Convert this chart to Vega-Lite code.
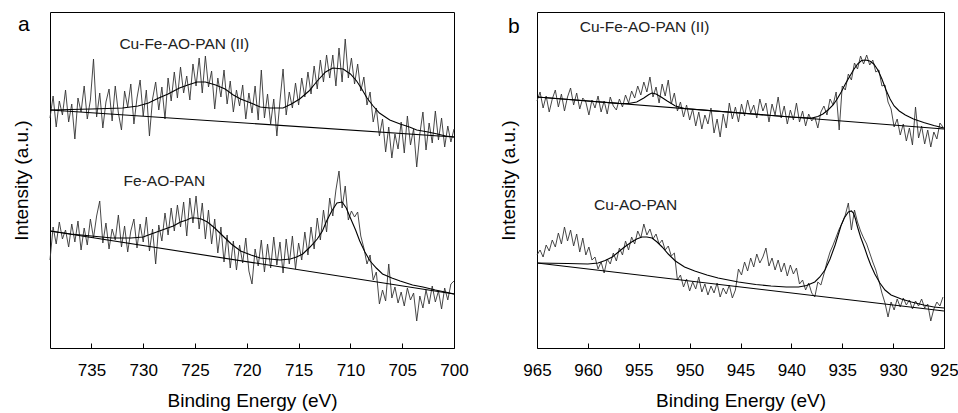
{
"$schema":"https://vega.github.io/schema/vega-lite/v6.json",
"padding":{"left":11,"top":11,"right":5,"bottom":5},
"bounds":"flush",
"spacing":83,
"config":{"font":"Liberation Sans","view":{"stroke":"#000","strokeWidth":1},
"axis":{"grid":false,"labelColor":"#000","titleColor":"#000","titleFontWeight":"normal","labelFont":"Liberation Sans","titleFont":"Liberation Sans"},
"axisX":{"tickSize":-5,"tickColor":"#000","tickWidth":1,"labelPadding":19,"labelFontSize":17,"titleFontSize":19,"titlePadding":13,"domain":false,"labelFlush":false},
"axisY":{"labels":false,"ticks":false,"domain":false,"titleFontSize":19,"titlePadding":19}},
"datasets":{
"aRaw":[
{"E":739.0,"I":230,"s":"t"},{"E":738.7,"I":252,"s":"t"},{"E":738.4,"I":221,"s":"t"},{"E":738.1,"I":247,"s":"t"},{"E":737.8,"I":233,"s":"t"},{"E":737.5,"I":258,"s":"t"},{"E":737.2,"I":226,"s":"t"},{"E":736.9,"I":244,"s":"t"},{"E":736.6,"I":209,"s":"t"},{"E":736.3,"I":250,"s":"t"},{"E":736.0,"I":236,"s":"t"},{"E":735.7,"I":262,"s":"t"},{"E":735.4,"I":229,"s":"t"},{"E":735.1,"I":248,"s":"t"},{"E":734.8,"I":289,"s":"t"},{"E":734.5,"I":231,"s":"t"},{"E":734.2,"I":255,"s":"t"},{"E":733.9,"I":220,"s":"t"},{"E":733.6,"I":246,"s":"t"},{"E":733.3,"I":259,"s":"t"},{"E":733.0,"I":227,"s":"t"},{"E":732.7,"I":262,"s":"t"},{"E":732.4,"I":235,"s":"t"},{"E":732.1,"I":218,"s":"t"},{"E":731.8,"I":257,"s":"t"},{"E":731.5,"I":241,"s":"t"},{"E":731.2,"I":264,"s":"t"},{"E":730.9,"I":224,"s":"t"},{"E":730.6,"I":250,"s":"t"},{"E":730.3,"I":268,"s":"t"},{"E":730.0,"I":232,"s":"t"},{"E":729.7,"I":258,"s":"t"},{"E":729.4,"I":212,"s":"t"},{"E":729.1,"I":249,"s":"t"},{"E":728.8,"I":266,"s":"t"},{"E":728.5,"I":238,"s":"t"},{"E":728.2,"I":261,"s":"t"},{"E":727.9,"I":229,"s":"t"},{"E":727.6,"I":270,"s":"t"},{"E":727.3,"I":247,"s":"t"},{"E":727.0,"I":276,"s":"t"},{"E":726.7,"I":250,"s":"t"},{"E":726.4,"I":281,"s":"t"},{"E":726.1,"I":255,"s":"t"},{"E":725.8,"I":272,"s":"t"},{"E":725.5,"I":248,"s":"t"},{"E":725.2,"I":284,"s":"t"},{"E":724.9,"I":262,"s":"t"},{"E":724.6,"I":290,"s":"t"},{"E":724.3,"I":255,"s":"t"},{"E":724.0,"I":292,"s":"t"},{"E":723.7,"I":261,"s":"t"},{"E":723.4,"I":277,"s":"t"},{"E":723.1,"I":239,"s":"t"},{"E":722.8,"I":270,"s":"t"},{"E":722.5,"I":251,"s":"t"},{"E":722.2,"I":278,"s":"t"},{"E":721.9,"I":244,"s":"t"},{"E":721.6,"I":267,"s":"t"},{"E":721.3,"I":236,"s":"t"},{"E":721.0,"I":258,"s":"t"},{"E":720.7,"I":242,"s":"t"},{"E":720.4,"I":263,"s":"t"},{"E":720.1,"I":229,"s":"t"},{"E":719.8,"I":255,"s":"t"},{"E":719.5,"I":235,"s":"t"},{"E":719.2,"I":262,"s":"t"},{"E":718.9,"I":228,"s":"t"},{"E":718.6,"I":278,"s":"t"},{"E":718.3,"I":230,"s":"t"},{"E":718.0,"I":254,"s":"t"},{"E":717.7,"I":224,"s":"t"},{"E":717.4,"I":249,"s":"t"},{"E":717.1,"I":212,"s":"t"},{"E":716.8,"I":247,"s":"t"},{"E":716.5,"I":279,"s":"t"},{"E":716.2,"I":233,"s":"t"},{"E":715.9,"I":256,"s":"t"},{"E":715.6,"I":240,"s":"t"},{"E":715.3,"I":265,"s":"t"},{"E":715.0,"I":243,"s":"t"},{"E":714.7,"I":270,"s":"t"},{"E":714.4,"I":251,"s":"t"},{"E":714.1,"I":276,"s":"t"},{"E":713.8,"I":254,"s":"t"},{"E":713.5,"I":282,"s":"t"},{"E":713.2,"I":259,"s":"t"},{"E":712.9,"I":288,"s":"t"},{"E":712.6,"I":266,"s":"t"},{"E":712.3,"I":293,"s":"t"},{"E":712.0,"I":270,"s":"t"},{"E":711.7,"I":293,"s":"t"},{"E":711.4,"I":262,"s":"t"},{"E":711.1,"I":300,"s":"t"},{"E":710.8,"I":266,"s":"t"},{"E":710.5,"I":309,"s":"t"},{"E":710.2,"I":270,"s":"t"},{"E":709.9,"I":290,"s":"t"},{"E":709.6,"I":264,"s":"t"},{"E":709.3,"I":284,"s":"t"},{"E":709.0,"I":257,"s":"t"},{"E":708.7,"I":271,"s":"t"},{"E":708.4,"I":243,"s":"t"},{"E":708.1,"I":256,"s":"t"},{"E":707.8,"I":226,"s":"t"},{"E":707.5,"I":240,"s":"t"},{"E":707.2,"I":212,"s":"t"},{"E":706.9,"I":229,"s":"t"},{"E":706.6,"I":196,"s":"t"},{"E":706.3,"I":221,"s":"t"},{"E":706.0,"I":190,"s":"t"},{"E":705.7,"I":214,"s":"t"},{"E":705.4,"I":199,"s":"t"},{"E":705.1,"I":226,"s":"t"},{"E":704.8,"I":195,"s":"t"},{"E":704.5,"I":232,"s":"t"},{"E":704.2,"I":203,"s":"t"},{"E":703.9,"I":219,"s":"t"},{"E":703.6,"I":181,"s":"t"},{"E":703.3,"I":214,"s":"t"},{"E":703.0,"I":236,"s":"t"},{"E":702.7,"I":198,"s":"t"},{"E":702.4,"I":225,"s":"t"},{"E":702.1,"I":205,"s":"t"},{"E":701.8,"I":237,"s":"t"},{"E":701.5,"I":208,"s":"t"},{"E":701.2,"I":230,"s":"t"},{"E":700.9,"I":201,"s":"t"},{"E":700.6,"I":222,"s":"t"},{"E":700.3,"I":206,"s":"t"},{"E":700.0,"I":219,"s":"t"},
{"E":739.0,"I":88,"s":"b"},{"E":738.7,"I":121,"s":"b"},{"E":738.4,"I":104,"s":"b"},{"E":738.1,"I":126,"s":"b"},{"E":737.8,"I":109,"s":"b"},{"E":737.5,"I":118,"s":"b"},{"E":737.2,"I":101,"s":"b"},{"E":736.9,"I":124,"s":"b"},{"E":736.6,"I":106,"s":"b"},{"E":736.3,"I":127,"s":"b"},{"E":736.0,"I":98,"s":"b"},{"E":735.7,"I":120,"s":"b"},{"E":735.4,"I":103,"s":"b"},{"E":735.1,"I":129,"s":"b"},{"E":734.8,"I":110,"s":"b"},{"E":734.5,"I":132,"s":"b"},{"E":734.2,"I":147,"s":"b"},{"E":733.9,"I":105,"s":"b"},{"E":733.6,"I":125,"s":"b"},{"E":733.3,"I":99,"s":"b"},{"E":733.0,"I":119,"s":"b"},{"E":732.7,"I":108,"s":"b"},{"E":732.4,"I":133,"s":"b"},{"E":732.1,"I":101,"s":"b"},{"E":731.8,"I":122,"s":"b"},{"E":731.5,"I":96,"s":"b"},{"E":731.2,"I":117,"s":"b"},{"E":730.9,"I":129,"s":"b"},{"E":730.6,"I":100,"s":"b"},{"E":730.3,"I":124,"s":"b"},{"E":730.0,"I":106,"s":"b"},{"E":729.7,"I":131,"s":"b"},{"E":729.4,"I":97,"s":"b"},{"E":729.1,"I":119,"s":"b"},{"E":728.8,"I":84,"s":"b"},{"E":728.5,"I":123,"s":"b"},{"E":728.2,"I":107,"s":"b"},{"E":727.9,"I":135,"s":"b"},{"E":727.6,"I":113,"s":"b"},{"E":727.3,"I":140,"s":"b"},{"E":727.0,"I":117,"s":"b"},{"E":726.7,"I":143,"s":"b"},{"E":726.4,"I":121,"s":"b"},{"E":726.1,"I":146,"s":"b"},{"E":725.8,"I":112,"s":"b"},{"E":725.5,"I":150,"s":"b"},{"E":725.2,"I":125,"s":"b"},{"E":724.9,"I":152,"s":"b"},{"E":724.6,"I":119,"s":"b"},{"E":724.3,"I":145,"s":"b"},{"E":724.0,"I":109,"s":"b"},{"E":723.7,"I":138,"s":"b"},{"E":723.4,"I":104,"s":"b"},{"E":723.1,"I":129,"s":"b"},{"E":722.8,"I":95,"s":"b"},{"E":722.5,"I":121,"s":"b"},{"E":722.2,"I":86,"s":"b"},{"E":721.9,"I":113,"s":"b"},{"E":721.6,"I":80,"s":"b"},{"E":721.3,"I":107,"s":"b"},{"E":721.0,"I":78,"s":"b"},{"E":720.7,"I":103,"s":"b"},{"E":720.4,"I":85,"s":"b"},{"E":720.1,"I":110,"s":"b"},{"E":719.8,"I":77,"s":"b"},{"E":719.5,"I":64,"s":"b"},{"E":719.2,"I":99,"s":"b"},{"E":718.9,"I":82,"s":"b"},{"E":718.6,"I":108,"s":"b"},{"E":718.3,"I":76,"s":"b"},{"E":718.0,"I":104,"s":"b"},{"E":717.7,"I":80,"s":"b"},{"E":717.4,"I":111,"s":"b"},{"E":717.1,"I":83,"s":"b"},{"E":716.8,"I":106,"s":"b"},{"E":716.5,"I":75,"s":"b"},{"E":716.2,"I":109,"s":"b"},{"E":715.9,"I":84,"s":"b"},{"E":715.6,"I":112,"s":"b"},{"E":715.3,"I":79,"s":"b"},{"E":715.0,"I":105,"s":"b"},{"E":714.7,"I":88,"s":"b"},{"E":714.4,"I":116,"s":"b"},{"E":714.1,"I":93,"s":"b"},{"E":713.8,"I":121,"s":"b"},{"E":713.5,"I":99,"s":"b"},{"E":713.2,"I":130,"s":"b"},{"E":712.9,"I":108,"s":"b"},{"E":712.6,"I":138,"s":"b"},{"E":712.3,"I":116,"s":"b"},{"E":712.0,"I":150,"s":"b"},{"E":711.7,"I":132,"s":"b"},{"E":711.4,"I":158,"s":"b"},{"E":711.1,"I":177,"s":"b"},{"E":710.8,"I":140,"s":"b"},{"E":710.5,"I":162,"s":"b"},{"E":710.2,"I":128,"s":"b"},{"E":709.9,"I":137,"s":"b"},{"E":709.6,"I":131,"s":"b"},{"E":709.3,"I":136,"s":"b"},{"E":709.0,"I":112,"s":"b"},{"E":708.7,"I":100,"s":"b"},{"E":708.4,"I":84,"s":"b"},{"E":708.1,"I":93,"s":"b"},{"E":707.8,"I":68,"s":"b"},{"E":707.5,"I":76,"s":"b"},{"E":707.2,"I":44,"s":"b"},{"E":706.9,"I":58,"s":"b"},{"E":706.6,"I":47,"s":"b"},{"E":706.3,"I":84,"s":"b"},{"E":706.0,"I":50,"s":"b"},{"E":705.7,"I":61,"s":"b"},{"E":705.4,"I":45,"s":"b"},{"E":705.1,"I":56,"s":"b"},{"E":704.8,"I":42,"s":"b"},{"E":704.5,"I":60,"s":"b"},{"E":704.2,"I":48,"s":"b"},{"E":703.9,"I":55,"s":"b"},{"E":703.6,"I":27,"s":"b"},{"E":703.3,"I":52,"s":"b"},{"E":703.0,"I":40,"s":"b"},{"E":702.7,"I":58,"s":"b"},{"E":702.4,"I":44,"s":"b"},{"E":702.1,"I":62,"s":"b"},{"E":701.8,"I":46,"s":"b"},{"E":701.5,"I":57,"s":"b"},{"E":701.2,"I":39,"s":"b"},{"E":700.9,"I":60,"s":"b"},{"E":700.6,"I":48,"s":"b"},{"E":700.3,"I":64,"s":"b"},{"E":700.0,"I":67,"s":"b"}
],
"aFit":[
{"E":739,"I":238,"s":"t"},{"E":735,"I":239,"s":"t"},{"E":732,"I":240,"s":"t"},{"E":730.5,"I":242,"s":"t"},{"E":729.5,"I":245,"s":"t"},{"E":728.5,"I":250,"s":"t"},{"E":727.6,"I":254,"s":"t"},{"E":726.5,"I":260,"s":"t"},{"E":725.7,"I":263,"s":"t"},{"E":724.8,"I":266,"s":"t"},{"E":724,"I":266,"s":"t"},{"E":723,"I":263,"s":"t"},{"E":722.1,"I":259,"s":"t"},{"E":721.3,"I":253,"s":"t"},{"E":720.6,"I":249,"s":"t"},{"E":719.6,"I":245,"s":"t"},{"E":718.7,"I":241,"s":"t"},{"E":717.8,"I":240,"s":"t"},{"E":716.5,"I":240,"s":"t"},{"E":715.7,"I":244,"s":"t"},{"E":714.9,"I":249,"s":"t"},{"E":714,"I":257,"s":"t"},{"E":713.2,"I":267,"s":"t"},{"E":712.4,"I":276,"s":"t"},{"E":711.7,"I":280,"s":"t"},{"E":710.7,"I":279,"s":"t"},{"E":710,"I":274,"s":"t"},{"E":709.4,"I":267,"s":"t"},{"E":708.9,"I":259,"s":"t"},{"E":708.4,"I":250,"s":"t"},{"E":707.8,"I":242,"s":"t"},{"E":707.2,"I":235,"s":"t"},{"E":706.2,"I":228,"s":"t"},{"E":705.2,"I":224,"s":"t"},{"E":704.3,"I":221,"s":"t"},{"E":703.6,"I":218,"s":"t"},{"E":702.5,"I":216,"s":"t"},{"E":701.6,"I":214,"s":"t"},{"E":700.8,"I":212,"s":"t"},{"E":700,"I":211,"s":"t"},
{"E":739,"I":117,"s":"b"},{"E":737,"I":114,"s":"b"},{"E":735,"I":112,"s":"b"},{"E":733,"I":110,"s":"b"},{"E":731.2,"I":110,"s":"b"},{"E":730,"I":111,"s":"b"},{"E":729.5,"I":113,"s":"b"},{"E":728.7,"I":116,"s":"b"},{"E":727.9,"I":119,"s":"b"},{"E":727.1,"I":122,"s":"b"},{"E":726.4,"I":126,"s":"b"},{"E":725.8,"I":128,"s":"b"},{"E":725.4,"I":130,"s":"b"},{"E":724.9,"I":130,"s":"b"},{"E":724.4,"I":129,"s":"b"},{"E":723.8,"I":126,"s":"b"},{"E":723.1,"I":120,"s":"b"},{"E":722.3,"I":112,"s":"b"},{"E":721.5,"I":104,"s":"b"},{"E":720.6,"I":97,"s":"b"},{"E":719.6,"I":93,"s":"b"},{"E":718.7,"I":90,"s":"b"},{"E":717.8,"I":89,"s":"b"},{"E":716.8,"I":88,"s":"b"},{"E":715.8,"I":89,"s":"b"},{"E":715.2,"I":91,"s":"b"},{"E":714.6,"I":94,"s":"b"},{"E":713.9,"I":101,"s":"b"},{"E":713.2,"I":109,"s":"b"},{"E":712.7,"I":117,"s":"b"},{"E":712.3,"I":127,"s":"b"},{"E":711.8,"I":137,"s":"b"},{"E":711.3,"I":145,"s":"b"},{"E":710.8,"I":146,"s":"b"},{"E":710.4,"I":140,"s":"b"},{"E":710,"I":130,"s":"b"},{"E":709.5,"I":118,"s":"b"},{"E":709.1,"I":107,"s":"b"},{"E":708.6,"I":96,"s":"b"},{"E":708.1,"I":87,"s":"b"},{"E":707.5,"I":80,"s":"b"},{"E":706.9,"I":74,"s":"b"},{"E":706,"I":70,"s":"b"},{"E":705.2,"I":67,"s":"b"},{"E":704,"I":63,"s":"b"},{"E":703,"I":61,"s":"b"},{"E":701.8,"I":58,"s":"b"},{"E":700.4,"I":55,"s":"b"},{"E":700,"I":54,"s":"b"}
],
"aBase":[{"E":739,"I":238,"s":"t"},{"E":700,"I":211,"s":"t"},{"E":739,"I":117,"s":"b"},{"E":700,"I":54,"s":"b"}],
"bRaw":[
{"E":965.0,"I":247,"s":"t"},{"E":964.7,"I":256,"s":"t"},{"E":964.4,"I":240,"s":"t"},{"E":964.1,"I":252,"s":"t"},{"E":963.8,"I":236,"s":"t"},{"E":963.5,"I":249,"s":"t"},{"E":963.2,"I":258,"s":"t"},{"E":962.9,"I":241,"s":"t"},{"E":962.6,"I":254,"s":"t"},{"E":962.3,"I":237,"s":"t"},{"E":962.0,"I":251,"s":"t"},{"E":961.7,"I":260,"s":"t"},{"E":961.4,"I":243,"s":"t"},{"E":961.1,"I":255,"s":"t"},{"E":960.8,"I":239,"s":"t"},{"E":960.5,"I":250,"s":"t"},{"E":960.2,"I":246,"s":"t"},{"E":959.9,"I":233,"s":"t"},{"E":959.6,"I":248,"s":"t"},{"E":959.3,"I":240,"s":"t"},{"E":959.0,"I":252,"s":"t"},{"E":958.7,"I":236,"s":"t"},{"E":958.4,"I":247,"s":"t"},{"E":958.1,"I":234,"s":"t"},{"E":957.8,"I":251,"s":"t"},{"E":957.5,"I":242,"s":"t"},{"E":957.2,"I":238,"s":"t"},{"E":956.9,"I":249,"s":"t"},{"E":956.6,"I":241,"s":"t"},{"E":956.3,"I":253,"s":"t"},{"E":956.0,"I":245,"s":"t"},{"E":955.7,"I":257,"s":"t"},{"E":955.4,"I":250,"s":"t"},{"E":955.1,"I":262,"s":"t"},{"E":954.8,"I":253,"s":"t"},{"E":954.5,"I":266,"s":"t"},{"E":954.2,"I":256,"s":"t"},{"E":953.9,"I":271,"s":"t"},{"E":953.6,"I":251,"s":"t"},{"E":953.3,"I":261,"s":"t"},{"E":953.0,"I":245,"s":"t"},{"E":952.7,"I":264,"s":"t"},{"E":952.4,"I":252,"s":"t"},{"E":952.1,"I":268,"s":"t"},{"E":951.8,"I":244,"s":"t"},{"E":951.5,"I":255,"s":"t"},{"E":951.2,"I":237,"s":"t"},{"E":950.9,"I":246,"s":"t"},{"E":950.6,"I":231,"s":"t"},{"E":950.3,"I":243,"s":"t"},{"E":950.0,"I":228,"s":"t"},{"E":949.7,"I":239,"s":"t"},{"E":949.4,"I":222,"s":"t"},{"E":949.1,"I":236,"s":"t"},{"E":948.8,"I":219,"s":"t"},{"E":948.5,"I":233,"s":"t"},{"E":948.2,"I":224,"s":"t"},{"E":947.9,"I":240,"s":"t"},{"E":947.6,"I":215,"s":"t"},{"E":947.3,"I":229,"s":"t"},{"E":947.0,"I":211,"s":"t"},{"E":946.7,"I":234,"s":"t"},{"E":946.4,"I":220,"s":"t"},{"E":946.1,"I":245,"s":"t"},{"E":945.8,"I":229,"s":"t"},{"E":945.5,"I":241,"s":"t"},{"E":945.2,"I":226,"s":"t"},{"E":944.9,"I":244,"s":"t"},{"E":944.6,"I":232,"s":"t"},{"E":944.3,"I":248,"s":"t"},{"E":944.0,"I":235,"s":"t"},{"E":943.7,"I":243,"s":"t"},{"E":943.4,"I":230,"s":"t"},{"E":943.1,"I":249,"s":"t"},{"E":942.8,"I":237,"s":"t"},{"E":942.5,"I":245,"s":"t"},{"E":942.2,"I":226,"s":"t"},{"E":941.9,"I":244,"s":"t"},{"E":941.6,"I":233,"s":"t"},{"E":941.3,"I":251,"s":"t"},{"E":941.0,"I":230,"s":"t"},{"E":940.7,"I":242,"s":"t"},{"E":940.4,"I":224,"s":"t"},{"E":940.1,"I":238,"s":"t"},{"E":939.8,"I":228,"s":"t"},{"E":939.5,"I":245,"s":"t"},{"E":939.2,"I":226,"s":"t"},{"E":938.9,"I":237,"s":"t"},{"E":938.6,"I":222,"s":"t"},{"E":938.3,"I":234,"s":"t"},{"E":938.0,"I":227,"s":"t"},{"E":937.7,"I":231,"s":"t"},{"E":937.4,"I":220,"s":"t"},{"E":937.1,"I":236,"s":"t"},{"E":936.8,"I":242,"s":"t"},{"E":936.5,"I":233,"s":"t"},{"E":936.2,"I":249,"s":"t"},{"E":935.9,"I":243,"s":"t"},{"E":935.6,"I":256,"s":"t"},{"E":935.3,"I":218,"s":"t"},{"E":935.0,"I":262,"s":"t"},{"E":934.7,"I":258,"s":"t"},{"E":934.4,"I":274,"s":"t"},{"E":934.1,"I":268,"s":"t"},{"E":933.8,"I":285,"s":"t"},{"E":933.5,"I":279,"s":"t"},{"E":933.2,"I":292,"s":"t"},{"E":932.9,"I":284,"s":"t"},{"E":932.6,"I":293,"s":"t"},{"E":932.3,"I":283,"s":"t"},{"E":932.0,"I":288,"s":"t"},{"E":931.7,"I":276,"s":"t"},{"E":931.4,"I":278,"s":"t"},{"E":931.1,"I":262,"s":"t"},{"E":930.8,"I":263,"s":"t"},{"E":930.5,"I":246,"s":"t"},{"E":930.2,"I":239,"s":"t"},{"E":929.9,"I":221,"s":"t"},{"E":929.6,"I":229,"s":"t"},{"E":929.3,"I":213,"s":"t"},{"E":929.0,"I":224,"s":"t"},{"E":928.7,"I":207,"s":"t"},{"E":928.4,"I":220,"s":"t"},{"E":928.1,"I":203,"s":"t"},{"E":927.8,"I":241,"s":"t"},{"E":927.5,"I":210,"s":"t"},{"E":927.2,"I":222,"s":"t"},{"E":926.9,"I":204,"s":"t"},{"E":926.6,"I":218,"s":"t"},{"E":926.3,"I":201,"s":"t"},{"E":926.0,"I":216,"s":"t"},{"E":925.7,"I":209,"s":"t"},{"E":925.4,"I":225,"s":"t"},{"E":925.1,"I":221,"s":"t"},
{"E":965.0,"I":93,"s":"b"},{"E":964.7,"I":98,"s":"b"},{"E":964.4,"I":91,"s":"b"},{"E":964.1,"I":103,"s":"b"},{"E":963.8,"I":97,"s":"b"},{"E":963.5,"I":108,"s":"b"},{"E":963.2,"I":101,"s":"b"},{"E":962.9,"I":115,"s":"b"},{"E":962.6,"I":104,"s":"b"},{"E":962.3,"I":121,"s":"b"},{"E":962.0,"I":107,"s":"b"},{"E":961.7,"I":118,"s":"b"},{"E":961.4,"I":102,"s":"b"},{"E":961.1,"I":114,"s":"b"},{"E":960.8,"I":96,"s":"b"},{"E":960.5,"I":110,"s":"b"},{"E":960.2,"I":93,"s":"b"},{"E":959.9,"I":101,"s":"b"},{"E":959.6,"I":88,"s":"b"},{"E":959.3,"I":91,"s":"b"},{"E":959.0,"I":79,"s":"b"},{"E":958.7,"I":86,"s":"b"},{"E":958.4,"I":75,"s":"b"},{"E":958.1,"I":89,"s":"b"},{"E":957.8,"I":84,"s":"b"},{"E":957.5,"I":95,"s":"b"},{"E":957.2,"I":87,"s":"b"},{"E":956.9,"I":100,"s":"b"},{"E":956.6,"I":93,"s":"b"},{"E":956.3,"I":107,"s":"b"},{"E":956.0,"I":98,"s":"b"},{"E":955.7,"I":111,"s":"b"},{"E":955.4,"I":104,"s":"b"},{"E":955.1,"I":117,"s":"b"},{"E":954.8,"I":110,"s":"b"},{"E":954.5,"I":124,"s":"b"},{"E":954.2,"I":113,"s":"b"},{"E":953.9,"I":119,"s":"b"},{"E":953.6,"I":109,"s":"b"},{"E":953.3,"I":114,"s":"b"},{"E":953.0,"I":104,"s":"b"},{"E":952.7,"I":108,"s":"b"},{"E":952.4,"I":98,"s":"b"},{"E":952.1,"I":102,"s":"b"},{"E":951.8,"I":92,"s":"b"},{"E":951.5,"I":95,"s":"b"},{"E":951.2,"I":68,"s":"b"},{"E":950.9,"I":73,"s":"b"},{"E":950.6,"I":61,"s":"b"},{"E":950.3,"I":69,"s":"b"},{"E":950.0,"I":57,"s":"b"},{"E":949.7,"I":66,"s":"b"},{"E":949.4,"I":59,"s":"b"},{"E":949.1,"I":71,"s":"b"},{"E":948.8,"I":56,"s":"b"},{"E":948.5,"I":64,"s":"b"},{"E":948.2,"I":53,"s":"b"},{"E":947.9,"I":62,"s":"b"},{"E":947.6,"I":55,"s":"b"},{"E":947.3,"I":65,"s":"b"},{"E":947.0,"I":51,"s":"b"},{"E":946.7,"I":60,"s":"b"},{"E":946.4,"I":54,"s":"b"},{"E":946.1,"I":63,"s":"b"},{"E":945.8,"I":50,"s":"b"},{"E":945.5,"I":58,"s":"b"},{"E":945.2,"I":79,"s":"b"},{"E":944.9,"I":73,"s":"b"},{"E":944.6,"I":86,"s":"b"},{"E":944.3,"I":77,"s":"b"},{"E":944.0,"I":90,"s":"b"},{"E":943.7,"I":81,"s":"b"},{"E":943.4,"I":94,"s":"b"},{"E":943.1,"I":85,"s":"b"},{"E":942.8,"I":91,"s":"b"},{"E":942.5,"I":100,"s":"b"},{"E":942.2,"I":82,"s":"b"},{"E":941.9,"I":90,"s":"b"},{"E":941.6,"I":78,"s":"b"},{"E":941.3,"I":88,"s":"b"},{"E":941.0,"I":76,"s":"b"},{"E":940.7,"I":85,"s":"b"},{"E":940.4,"I":72,"s":"b"},{"E":940.1,"I":83,"s":"b"},{"E":939.8,"I":74,"s":"b"},{"E":939.5,"I":80,"s":"b"},{"E":939.2,"I":64,"s":"b"},{"E":938.9,"I":68,"s":"b"},{"E":938.6,"I":58,"s":"b"},{"E":938.3,"I":65,"s":"b"},{"E":938.0,"I":55,"s":"b"},{"E":937.7,"I":51,"s":"b"},{"E":937.4,"I":66,"s":"b"},{"E":937.1,"I":63,"s":"b"},{"E":936.8,"I":74,"s":"b"},{"E":936.5,"I":86,"s":"b"},{"E":936.2,"I":96,"s":"b"},{"E":935.9,"I":103,"s":"b"},{"E":935.6,"I":111,"s":"b"},{"E":935.3,"I":119,"s":"b"},{"E":935.0,"I":125,"s":"b"},{"E":934.7,"I":133,"s":"b"},{"E":934.4,"I":145,"s":"b"},{"E":934.1,"I":118,"s":"b"},{"E":933.8,"I":138,"s":"b"},{"E":933.5,"I":126,"s":"b"},{"E":933.2,"I":117,"s":"b"},{"E":932.9,"I":110,"s":"b"},{"E":932.6,"I":104,"s":"b"},{"E":932.3,"I":95,"s":"b"},{"E":932.0,"I":86,"s":"b"},{"E":931.7,"I":78,"s":"b"},{"E":931.4,"I":67,"s":"b"},{"E":931.1,"I":55,"s":"b"},{"E":930.8,"I":45,"s":"b"},{"E":930.5,"I":31,"s":"b"},{"E":930.2,"I":46,"s":"b"},{"E":929.9,"I":38,"s":"b"},{"E":929.6,"I":49,"s":"b"},{"E":929.3,"I":41,"s":"b"},{"E":929.0,"I":50,"s":"b"},{"E":928.7,"I":43,"s":"b"},{"E":928.4,"I":48,"s":"b"},{"E":928.1,"I":39,"s":"b"},{"E":927.8,"I":47,"s":"b"},{"E":927.5,"I":42,"s":"b"},{"E":927.2,"I":49,"s":"b"},{"E":926.9,"I":40,"s":"b"},{"E":926.6,"I":44,"s":"b"},{"E":926.3,"I":27,"s":"b"},{"E":926.0,"I":39,"s":"b"},{"E":925.7,"I":46,"s":"b"},{"E":925.4,"I":42,"s":"b"},{"E":925.1,"I":51,"s":"b"}
],
"bFit":[
{"E":965,"I":251,"s":"t"},{"E":960,"I":247,"s":"t"},{"E":957,"I":244.6,"s":"t"},{"E":956,"I":244.5,"s":"t"},{"E":955.2,"I":246,"s":"t"},{"E":954.5,"I":250,"s":"t"},{"E":954,"I":253.5,"s":"t"},{"E":953.7,"I":255,"s":"t"},{"E":953.3,"I":254,"s":"t"},{"E":952.8,"I":251,"s":"t"},{"E":952.2,"I":247,"s":"t"},{"E":951.4,"I":242,"s":"t"},{"E":950.5,"I":239.5,"s":"t"},{"E":945,"I":235,"s":"t"},{"E":940,"I":231,"s":"t"},{"E":938,"I":230,"s":"t"},{"E":937.4,"I":231.5,"s":"t"},{"E":936.9,"I":234,"s":"t"},{"E":936.4,"I":238,"s":"t"},{"E":935.9,"I":243,"s":"t"},{"E":935.5,"I":249,"s":"t"},{"E":935.1,"I":256,"s":"t"},{"E":934.7,"I":264,"s":"t"},{"E":934.3,"I":271,"s":"t"},{"E":933.9,"I":278,"s":"t"},{"E":933.5,"I":284,"s":"t"},{"E":933.1,"I":287.5,"s":"t"},{"E":932.7,"I":288,"s":"t"},{"E":932.3,"I":287,"s":"t"},{"E":931.9,"I":284,"s":"t"},{"E":931.5,"I":278,"s":"t"},{"E":931.1,"I":269,"s":"t"},{"E":930.7,"I":258,"s":"t"},{"E":930.3,"I":249,"s":"t"},{"E":929.9,"I":242,"s":"t"},{"E":929.4,"I":237,"s":"t"},{"E":928.8,"I":233,"s":"t"},{"E":928,"I":229,"s":"t"},{"E":927,"I":225.5,"s":"t"},{"E":926,"I":222.5,"s":"t"},{"E":925,"I":220,"s":"t"},
{"E":965,"I":85,"s":"b"},{"E":962,"I":84.5,"s":"b"},{"E":960,"I":84,"s":"b"},{"E":959,"I":85,"s":"b"},{"E":958.3,"I":87.5,"s":"b"},{"E":957.6,"I":91,"s":"b"},{"E":957,"I":96,"s":"b"},{"E":956.4,"I":101,"s":"b"},{"E":955.7,"I":106,"s":"b"},{"E":955.2,"I":109,"s":"b"},{"E":954.7,"I":111,"s":"b"},{"E":954.2,"I":111,"s":"b"},{"E":953.7,"I":110,"s":"b"},{"E":953.2,"I":106,"s":"b"},{"E":952.7,"I":101,"s":"b"},{"E":952.1,"I":94,"s":"b"},{"E":951.4,"I":87,"s":"b"},{"E":950.5,"I":81,"s":"b"},{"E":949.5,"I":77,"s":"b"},{"E":948.3,"I":73,"s":"b"},{"E":947.2,"I":70,"s":"b"},{"E":945.2,"I":66,"s":"b"},{"E":943.5,"I":63.5,"s":"b"},{"E":942,"I":62,"s":"b"},{"E":940.5,"I":61,"s":"b"},{"E":939.3,"I":61,"s":"b"},{"E":938.5,"I":62.5,"s":"b"},{"E":937.7,"I":66,"s":"b"},{"E":937.2,"I":71,"s":"b"},{"E":936.7,"I":78,"s":"b"},{"E":936.2,"I":89,"s":"b"},{"E":935.7,"I":103,"s":"b"},{"E":935.4,"I":113,"s":"b"},{"E":935.1,"I":123,"s":"b"},{"E":934.8,"I":130,"s":"b"},{"E":934.4,"I":136,"s":"b"},{"E":934.1,"I":137,"s":"b"},{"E":933.9,"I":135,"s":"b"},{"E":933.7,"I":129,"s":"b"},{"E":933.5,"I":121,"s":"b"},{"E":933.2,"I":111,"s":"b"},{"E":932.8,"I":100,"s":"b"},{"E":932.5,"I":91,"s":"b"},{"E":932.2,"I":83,"s":"b"},{"E":931.8,"I":74,"s":"b"},{"E":931.3,"I":65,"s":"b"},{"E":930.8,"I":58,"s":"b"},{"E":930.2,"I":53,"s":"b"},{"E":929.2,"I":49,"s":"b"},{"E":928.2,"I":46,"s":"b"},{"E":927,"I":43,"s":"b"},{"E":926,"I":41,"s":"b"},{"E":925,"I":40,"s":"b"}
],
"bBase":[{"E":965,"I":251,"s":"t"},{"E":925,"I":219,"s":"t"},{"E":965,"I":85,"s":"b"},{"E":925,"I":37,"s":"b"}]
},
"hconcat":[
{
"width":404,"height":336,
"encoding":{
"x":{"field":"E","type":"quantitative","scale":{"domain":[700,739],"reverse":true,"nice":false,"zero":false},"axis":{"values":[735,730,725,720,715,710,705,700],"title":"Binding Energy (eV)"}},
"y":{"field":"I","type":"quantitative","scale":{"domain":[0,336],"nice":false,"zero":false},"axis":{"title":"Intensity (a.u.)"}}
},
"layer":[
{"data":{"name":"aRaw"},"mark":{"type":"line","stroke":"#333","strokeWidth":0.9},"encoding":{"detail":{"field":"s"}}},
{"data":{"name":"aFit"},"mark":{"type":"line","stroke":"#000","strokeWidth":1.1},"encoding":{"detail":{"field":"s"}}},
{"data":{"name":"aBase"},"mark":{"type":"line","stroke":"#000","strokeWidth":1.1},"encoding":{"detail":{"field":"s"}}},
{"data":{"values":[{"E":732.3,"I":304,"label":"Cu-Fe-AO-PAN (II)"},{"E":731.9,"I":167,"label":"Fe-AO-PAN"}]},"mark":{"type":"text","align":"left","baseline":"middle","fontSize":15.5,"font":"Liberation Sans","color":"#222"},"encoding":{"text":{"field":"label"}}},
{"data":{"values":[{"E":742.1,"I":317,"label":"a"}]},"mark":{"type":"text","align":"left","baseline":"alphabetic","fontSize":21,"font":"Liberation Sans","color":"#000"},"encoding":{"text":{"field":"label"}}}
]
},
{
"width":407,"height":336,
"encoding":{
"x":{"field":"E","type":"quantitative","scale":{"domain":[925,965],"reverse":true,"nice":false,"zero":false},"axis":{"values":[965,960,955,950,945,940,935,930,925],"title":"Binding Energy (eV)"}},
"y":{"field":"I","type":"quantitative","scale":{"domain":[0,336],"nice":false,"zero":false},"axis":{"title":"Intensity (a.u.)"}}
},
"layer":[
{"data":{"name":"bRaw"},"mark":{"type":"line","stroke":"#333","strokeWidth":0.9},"encoding":{"detail":{"field":"s"}}},
{"data":{"name":"bFit"},"mark":{"type":"line","stroke":"#000","strokeWidth":1.1},"encoding":{"detail":{"field":"s"}}},
{"data":{"name":"bBase"},"mark":{"type":"line","stroke":"#000","strokeWidth":1.1},"encoding":{"detail":{"field":"s"}}},
{"data":{"values":[{"E":960.8,"I":321,"label":"Cu-Fe-AO-PAN (II)"},{"E":959.4,"I":143,"label":"Cu-AO-PAN"}]},"mark":{"type":"text","align":"left","baseline":"middle","fontSize":15.5,"font":"Liberation Sans","color":"#222"},"encoding":{"text":{"field":"label"}}},
{"data":{"values":[{"E":967.85,"I":315,"label":"b"}]},"mark":{"type":"text","align":"left","baseline":"alphabetic","fontSize":21,"font":"Liberation Sans","color":"#000"},"encoding":{"text":{"field":"label"}}}
]
}
]
}
